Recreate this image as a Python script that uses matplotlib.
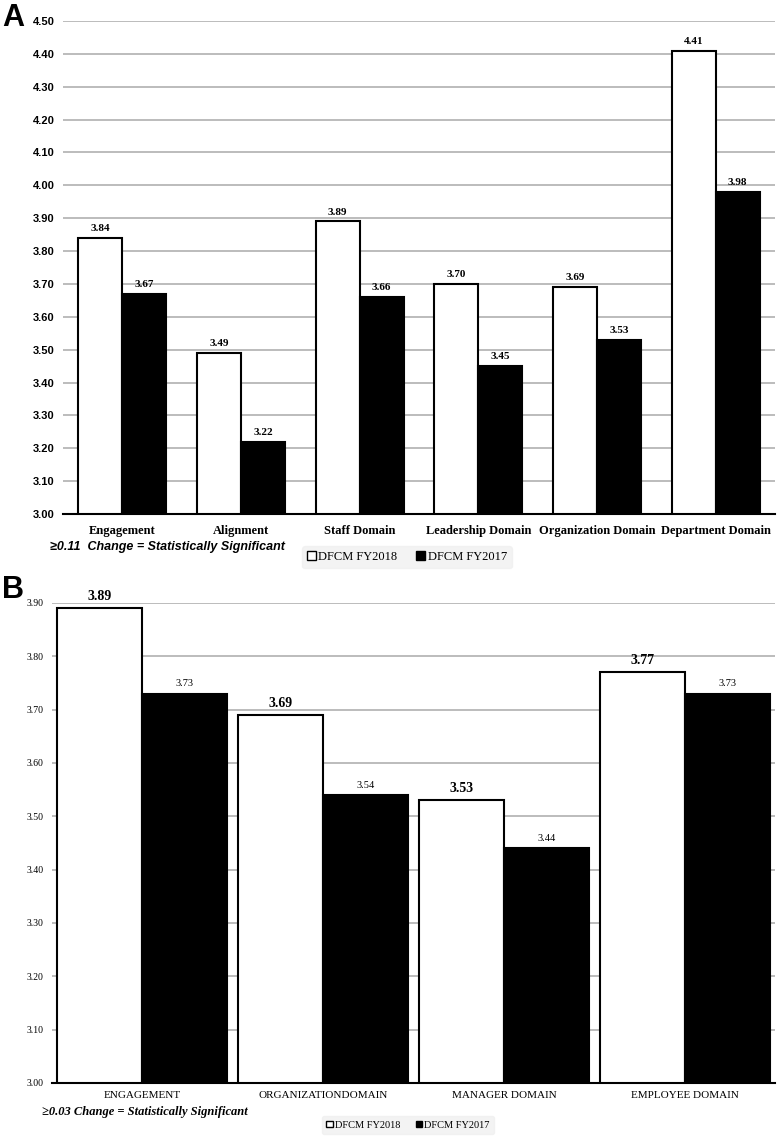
import numpy as np
import matplotlib.pyplot as plt
from matplotlib.patches import Patch

# panel A data
cats_a = ["Engagement", "Alignment", "Staff Domain", "Leadership Domain",
          "Organization Domain", "Department Domain"]
fy2018_a = [3.84, 3.49, 3.89, 3.70, 3.69, 4.41]
fy2017_a = [3.67, 3.22, 3.66, 3.45, 3.53, 3.98]
ticks_a = [3.00, 3.10, 3.20, 3.30, 3.40, 3.50, 3.60, 3.70, 3.80, 3.90,
           4.00, 4.10, 4.20, 4.30, 4.40, 4.50]

# panel B data
cats_b = ["ENGAGEMENT", "ORGANIZATIONDOMAIN", "MANAGER DOMAIN", "EMPLOYEE DOMAIN"]
fy2018_b = [3.89, 3.69, 3.53, 3.77]
fy2017_b = [3.73, 3.54, 3.44, 3.73]
ticks_b = [3.00, 3.10, 3.20, 3.30, 3.40, 3.50, 3.60, 3.70, 3.80, 3.90]

series_names = ["DFCM FY2018", "DFCM FY2017"]

W, H = 780, 1142
fig = plt.figure(figsize=(W / 100, H / 100), dpi=100)

def box(l, t, r, b):
    return [l / W, 1 - b / H, (r - l) / W, (b - t) / H]

serif = "Liberation Serif"
sans = "Liberation Sans"

# ---------- panel A ----------
ax = fig.add_axes(box(63, 21, 775, 514))
x = np.arange(len(cats_a))
w = 0.37
ax.bar(x - w / 2, [v - 3 for v in fy2018_a], w, bottom=3, color="white",
       edgecolor="black", linewidth=1.5, zorder=3)
ax.bar(x + w / 2, [v - 3 for v in fy2017_a], w, bottom=3, color="black",
       edgecolor="black", linewidth=1.5, zorder=3)
for i in range(len(cats_a)):
    ax.text(x[i] - w / 2, fy2018_a[i] + 0.015, f"{fy2018_a[i]:.2f}", ha="center",
            va="bottom", fontsize=8, fontweight="bold", family=serif)
    ax.text(x[i] + w / 2, fy2017_a[i] + 0.015, f"{fy2017_a[i]:.2f}", ha="center",
            va="bottom", fontsize=8, fontweight="bold", family=serif)
ax.set_xlim(-0.5, len(cats_a) - 0.5)
ax.set_ylim(3.0, 4.5)
ax.set_yticks(ticks_a)
ax.set_yticklabels([f"{t:.2f}" for t in ticks_a], fontsize=8, fontweight="bold",
                   family=sans)
ax.set_xticks(x)
ax.set_xticklabels(cats_a, fontsize=9, fontweight="bold", family=serif)
ax.grid(axis="y", color="#b0b0b0", linewidth=1.2, zorder=0)
for s in ["top", "right", "left"]:
    ax.spines[s].set_visible(False)
ax.spines["bottom"].set_linewidth(1.5)
ax.tick_params(length=0, pad=6)
ax.tick_params(axis="x", pad=8)

fig.text(50 / W, 1 - 547 / H, "\u22650.11  Change = Statistically Significant",
         fontsize=9, fontweight="bold", style="italic", family=sans, va="center")
handles = [Patch(facecolor="white", edgecolor="black"),
           Patch(facecolor="black", edgecolor="black")]
leg = fig.legend(handles, series_names, loc="center", ncol=2,
                 bbox_to_anchor=(407 / W, 1 - 557 / H), frameon=True,
                 prop={"family": serif, "size": 9}, handlelength=0.7,
                 handleheight=0.7, handletextpad=0.2, columnspacing=1.5,
                 borderpad=0.4)
leg.get_frame().set_facecolor("#f0f0f0")
leg.get_frame().set_edgecolor("#f0f0f0")
fig.text(2 / W, 1 - 18 / H, "A", fontsize=22, fontweight="bold", family=sans,
         va="center")

# ---------- panel B ----------
ax2 = fig.add_axes(box(52, 603, 775, 1083))
x = np.arange(len(cats_b))
w = 0.47
ax2.bar(x - w / 2, [v - 3 for v in fy2018_b], w, bottom=3, color="white",
        edgecolor="black", linewidth=1.5, zorder=3)
ax2.bar(x + w / 2, [v - 3 for v in fy2017_b], w, bottom=3, color="black",
        edgecolor="black", linewidth=1.5, zorder=3)
for i in range(len(cats_b)):
    ax2.text(x[i] - w / 2, fy2018_b[i] + 0.01, f"{fy2018_b[i]:.2f}", ha="center",
             va="bottom", fontsize=10, fontweight="bold", family=serif)
    ax2.text(x[i] + w / 2, fy2017_b[i] + 0.01, f"{fy2017_b[i]:.2f}", ha="center",
             va="bottom", fontsize=7.5, family=serif)
ax2.set_xlim(-0.5, len(cats_b) - 0.5)
ax2.set_ylim(3.0, 3.9)
ax2.set_yticks(ticks_b)
ax2.set_yticklabels([f"{t:.2f}" for t in ticks_b], fontsize=7, family=serif)
ax2.set_xticks(x)
ax2.set_xticklabels(cats_b, fontsize=8, family=serif)
ax2.grid(axis="y", color="#b0b0b0", linewidth=1.2, zorder=0)
for s in ["top", "right", "left"]:
    ax2.spines[s].set_visible(False)
ax2.spines["bottom"].set_linewidth(1.5)
ax2.tick_params(length=0, pad=6)
ax2.tick_params(axis="x", pad=6)

fig.text(42 / W, 1 - 1112 / H, "\u22650.03 Change = Statistically Significant",
         fontsize=9, fontweight="bold", style="italic", family=serif, va="center")
leg2 = fig.legend(handles, series_names, loc="center", ncol=2,
                  bbox_to_anchor=(408 / W, 1 - 1125 / H), frameon=True,
                  prop={"family": serif, "size": 7.5}, handlelength=0.6,
                  handleheight=0.6, handletextpad=0.2, columnspacing=1.5,
                  borderpad=0.4)
leg2.get_frame().set_facecolor("#f0f0f0")
leg2.get_frame().set_edgecolor("#f0f0f0")
fig.text(2 / W, 1 - 590 / H, "B", fontsize=22, fontweight="bold", family=sans,
         va="center")

fig.savefig("out.png", dpi=100, facecolor="white")
